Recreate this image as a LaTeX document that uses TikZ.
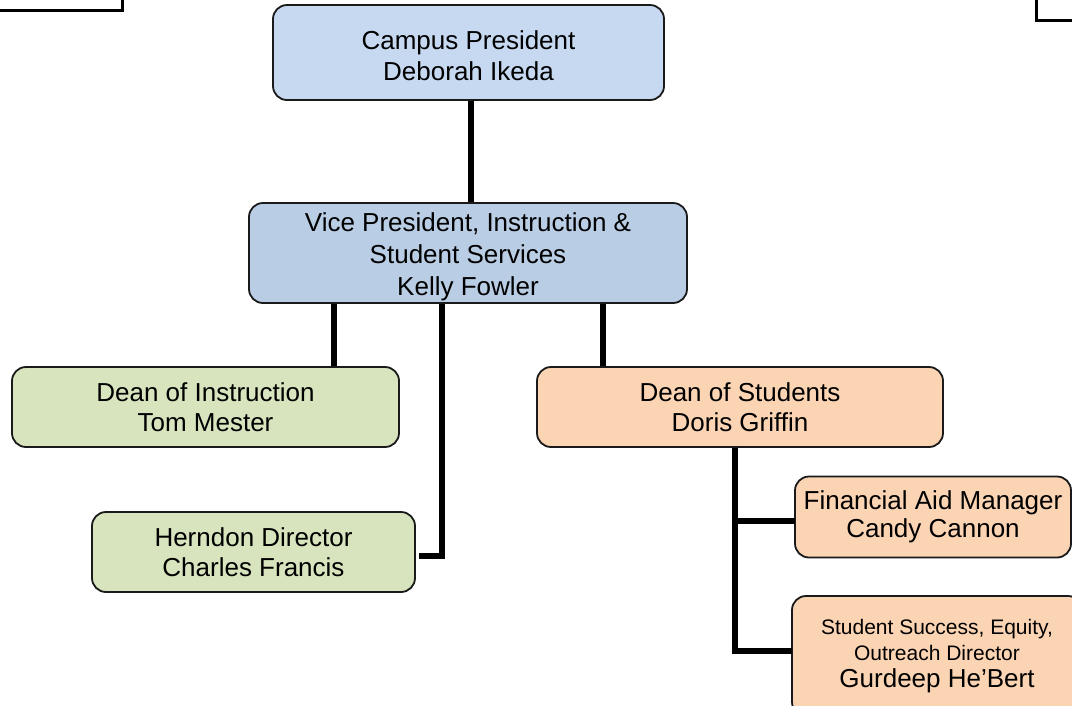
\documentclass[tikz,border=0pt]{standalone}
\usepackage{fontspec}
\setmainfont{Liberation Sans}
\definecolor{cpblue}{HTML}{C6D9F1}
\definecolor{vpblue}{HTML}{B9CDE5}
\definecolor{green1}{HTML}{D7E4BD}
\definecolor{peach}{HTML}{FBD4B4}
\definecolor{edge}{HTML}{1A1A1A}
\tikzset{
  box/.style={draw=edge, line width=1.8pt, rounded corners=14pt, align=center,
    inner sep=0pt, font=\fontsize{26}{30.5}\selectfont, text=black},
  txt/.style={align=center, inner sep=0pt, text=black, font=\fontsize{26}{30.5}\selectfont},
  conn/.style={line width=6pt, draw=black, line join=miter},
  frame/.style={line width=3pt, draw=black}
}
\begin{document}
\begin{tikzpicture}[x=1pt,y=-1pt]
\clip (0,0) rectangle (1072,705);
\fill[white] (0,0) rectangle (1072,705);
% partial frames at top corners
\coordinate (tl1) at (-10,10.5);
\coordinate (tl2) at (122,10.5);
\coordinate (tl3) at (122,-10);
\draw[frame] (tl1) -- (tl2) -- (tl3);
\coordinate (tr1) at (1085,20);
\coordinate (tr2) at (1036,20);
\coordinate (tr3) at (1036,-10);
\draw[frame] (tr1) -- (tr2) -- (tr3);
% boxes
\node[box, fill=cpblue, minimum width=391pt, minimum height=95pt] (cp) at (468.5,52.5) {};
\node[txt] (cpt) at (468.5,55.5) {Campus President\\Deborah Ikeda};
\node[box, fill=vpblue, minimum width=438pt, minimum height=100pt] (vp) at (468,253) {};
\node[txt, font=\fontsize{26}{32}\selectfont] (vpt) at (468,257)
  {Vice President, Instruction \&\\Student Services\\Kelly Fowler};
\node[box, fill=green1, minimum width=387pt, minimum height=80pt] (doi) at (205.5,407)
  {Dean of Instruction\\Tom Mester};
\node[box, fill=green1, minimum width=323pt, minimum height=80pt] (hd) at (253.5,552)
  {Herndon Director\\Charles Francis};
\node[box, fill=peach, minimum width=406pt, minimum height=80pt] (dos) at (740,407)
  {Dean of Students\\Doris Griffin};
\node[box, fill=peach, minimum width=276pt, minimum height=81pt,
  font=\fontsize{26}{27.5}\selectfont] (fa) at (933,517)
  {Financial Aid Manager\\Candy Cannon};
\node[box, fill=peach, minimum width=290pt, minimum height=120pt,
  font=\fontsize{21}{26}\selectfont] (ss) at (937,656)
  {Student Success, Equity,\\Outreach Director\\[1pt]{\fontsize{26}{30}\selectfont Gurdeep He’Bert}};
% connector x positions
\coordinate (xa) at (471,0);
\coordinate (xb) at (334,0);
\coordinate (xc) at (442,0);
\coordinate (xd) at (603,0);
\coordinate (xe) at (735,0);
\coordinate (hdj) at (419,556);
\coordinate (faj) at (795,521);
\coordinate (ssj) at (792,651);
% connectors
\draw[conn] (cp.south -| xa) -- (vp.north -| xa);
\draw[conn] (vp.south -| xb) -- (doi.north -| xb);
\draw[conn] (vp.south -| xc) |- (hdj);
\draw[conn] (vp.south -| xd) -- (dos.north -| xd);
\draw[conn] (dos.south -| xe) |- (ssj);
\draw[conn] (xe |- faj) -- (faj);
\end{tikzpicture}
\end{document}
